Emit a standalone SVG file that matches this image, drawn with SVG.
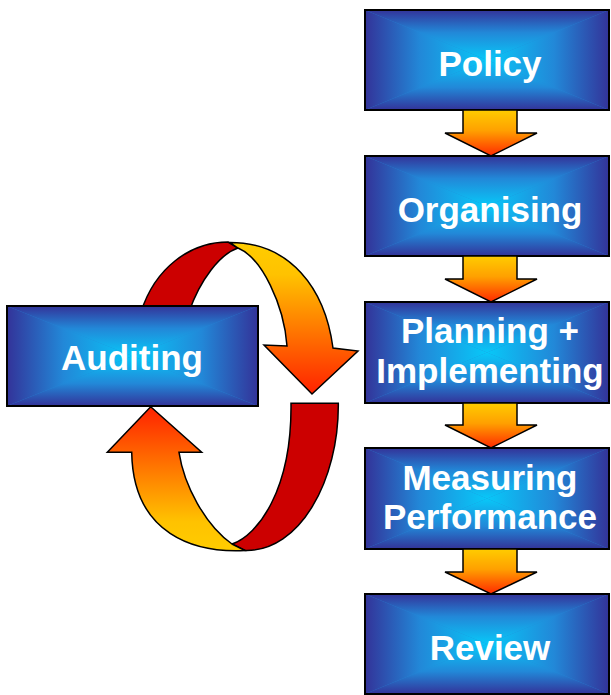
<svg xmlns="http://www.w3.org/2000/svg" width="611" height="695" viewBox="0 0 611 695">
<defs>
<style>
.lbl{font-family:"Liberation Sans",Arial,sans-serif;font-weight:bold;font-size:35px;fill:#ffffff;text-anchor:middle}
.frame{fill:none;stroke:#000;stroke-width:2}
.step{fill:url(#gArrow);stroke:#000;stroke-width:1.5;stroke-linejoin:miter}
.red{fill:#CC0000;stroke:#000;stroke-width:1.5}
.bg{fill:#2288D8}
</style>
<linearGradient id="gT" x1="0" y1="0" x2="0" y2="1"><stop offset="0" stop-color="#333399"/><stop offset="0.45" stop-color="#2288D8"/><stop offset="1" stop-color="#08C8F8"/></linearGradient>
<linearGradient id="gB" x1="0" y1="1" x2="0" y2="0"><stop offset="0" stop-color="#333399"/><stop offset="0.45" stop-color="#2288D8"/><stop offset="1" stop-color="#08C8F8"/></linearGradient>
<linearGradient id="gL" x1="0" y1="0" x2="1" y2="0"><stop offset="0" stop-color="#333399"/><stop offset="0.45" stop-color="#2288D8"/><stop offset="1" stop-color="#08C8F8"/></linearGradient>
<linearGradient id="gR" x1="1" y1="0" x2="0" y2="0"><stop offset="0" stop-color="#333399"/><stop offset="0.45" stop-color="#2288D8"/><stop offset="1" stop-color="#08C8F8"/></linearGradient>
<linearGradient id="gArrow" x1="0" y1="0" x2="0" y2="1"><stop offset="0" stop-color="#FFCC00"/><stop offset="0.45" stop-color="#FFA000"/><stop offset="1" stop-color="#FF2A00"/></linearGradient>
<linearGradient id="gTopArc" gradientUnits="userSpaceOnUse" x1="0" y1="245" x2="0" y2="394"><stop offset="0" stop-color="#FFCC00"/><stop offset="0.2" stop-color="#FFC200"/><stop offset="1" stop-color="#FF2200"/></linearGradient>
<linearGradient id="gBotArc" gradientUnits="userSpaceOnUse" x1="0" y1="550" x2="0" y2="407"><stop offset="0" stop-color="#FFCC00"/><stop offset="0.2" stop-color="#FFC200"/><stop offset="1" stop-color="#FF2200"/></linearGradient>
</defs>
<rect width="611" height="695" fill="#ffffff"/>

<g id="cycle-back">
<path class="red" d="M141,312 C155,268 190,242 228,242 L238,248 C220,254 200,280 189,312 Z"/>
<path class="red" d="M291,403.3 L338.3,403.3 C339,480 300,552 245,550.5 L232,544 C258,535 292,490 291,403.3 Z"/>
</g>

<g id="auditing">
<rect class="bg" x="7" y="306" width="251" height="100"/>
<polygon points="7,306 258,306 132.5,356" fill="url(#gT)"/>
<polygon points="7,406 258,406 132.5,356" fill="url(#gB)"/>
<polygon points="7,306 7,406 132.5,356" fill="url(#gL)"/>
<polygon points="258,306 258,406 132.5,356" fill="url(#gR)"/>
<rect class="frame" x="7" y="306" width="251" height="100"/>
<text class="lbl" x="132" y="370">Auditing</text>
</g>

<g id="cycle-front">
<path d="M230,242.5 C290,242.5 325,288 333,348 L358,351 L312,394 L264,345 L287,346 C284,305 262,258 238,248 Z" fill="url(#gTopArc)" stroke="#000" stroke-width="1.5"/>
<path d="M150.7,406.7 L201.7,452.3 L179,452.3 C184,485 205,525 232,544 L245,550.5 C195,553 133,535 131.7,452.3 L107.3,452.3 Z" fill="url(#gBotArc)" stroke="#000" stroke-width="1.5"/>
</g>

<g id="policy">
<rect class="bg" x="365" y="10" width="244" height="100"/>
<polygon points="365,10 609,10 487,60" fill="url(#gT)"/>
<polygon points="365,110 609,110 487,60" fill="url(#gB)"/>
<polygon points="365,10 365,110 487,60" fill="url(#gL)"/>
<polygon points="609,10 609,110 487,60" fill="url(#gR)"/>
<rect class="frame" x="365" y="10" width="244" height="100"/>
<text class="lbl" x="490" y="76">Policy</text>
</g>

<g id="organising">
<rect class="bg" x="365" y="156" width="244" height="100"/>
<polygon points="365,156 609,156 487,206" fill="url(#gT)"/>
<polygon points="365,256 609,256 487,206" fill="url(#gB)"/>
<polygon points="365,156 365,256 487,206" fill="url(#gL)"/>
<polygon points="609,156 609,256 487,206" fill="url(#gR)"/>
<rect class="frame" x="365" y="156" width="244" height="100"/>
<text class="lbl" x="490" y="222">Organising</text>
</g>

<g id="planning">
<rect class="bg" x="365" y="302" width="244" height="101"/>
<polygon points="365,302 609,302 487,352.5" fill="url(#gT)"/>
<polygon points="365,403 609,403 487,352.5" fill="url(#gB)"/>
<polygon points="365,302 365,403 487,352.5" fill="url(#gL)"/>
<polygon points="609,302 609,403 487,352.5" fill="url(#gR)"/>
<rect class="frame" x="365" y="302" width="244" height="101"/>
<text class="lbl" x="490" y="343">Planning +</text>
<text class="lbl" x="490" y="383">Implementing</text>
</g>

<g id="measuring">
<rect class="bg" x="365" y="448" width="244" height="101"/>
<polygon points="365,448 609,448 487,498.5" fill="url(#gT)"/>
<polygon points="365,549 609,549 487,498.5" fill="url(#gB)"/>
<polygon points="365,448 365,549 487,498.5" fill="url(#gL)"/>
<polygon points="609,448 609,549 487,498.5" fill="url(#gR)"/>
<rect class="frame" x="365" y="448" width="244" height="101"/>
<text class="lbl" x="490" y="490">Measuring</text>
<text class="lbl" x="490" y="529">Performance</text>
</g>

<g id="review">
<rect class="bg" x="365" y="594" width="244" height="100"/>
<polygon points="365,594 609,594 487,644" fill="url(#gT)"/>
<polygon points="365,694 609,694 487,644" fill="url(#gB)"/>
<polygon points="365,594 365,694 487,644" fill="url(#gL)"/>
<polygon points="609,594 609,694 487,644" fill="url(#gR)"/>
<rect class="frame" x="365" y="594" width="244" height="100"/>
<text class="lbl" x="490" y="660">Review</text>
</g>

<g id="connectors">
<polygon class="step" points="463,110 517,110 517,133 537,133 491,156 445,133 463,133"/>
<polygon class="step" points="463,256 517,256 517,279 537,279 491,302 445,279 463,279"/>
<polygon class="step" points="463,403 517,403 517,425 537,425 491,448 445,425 463,425"/>
<polygon class="step" points="463,549 517,549 517,572 537,572 491,594 445,572 463,572"/>
</g>
</svg>
